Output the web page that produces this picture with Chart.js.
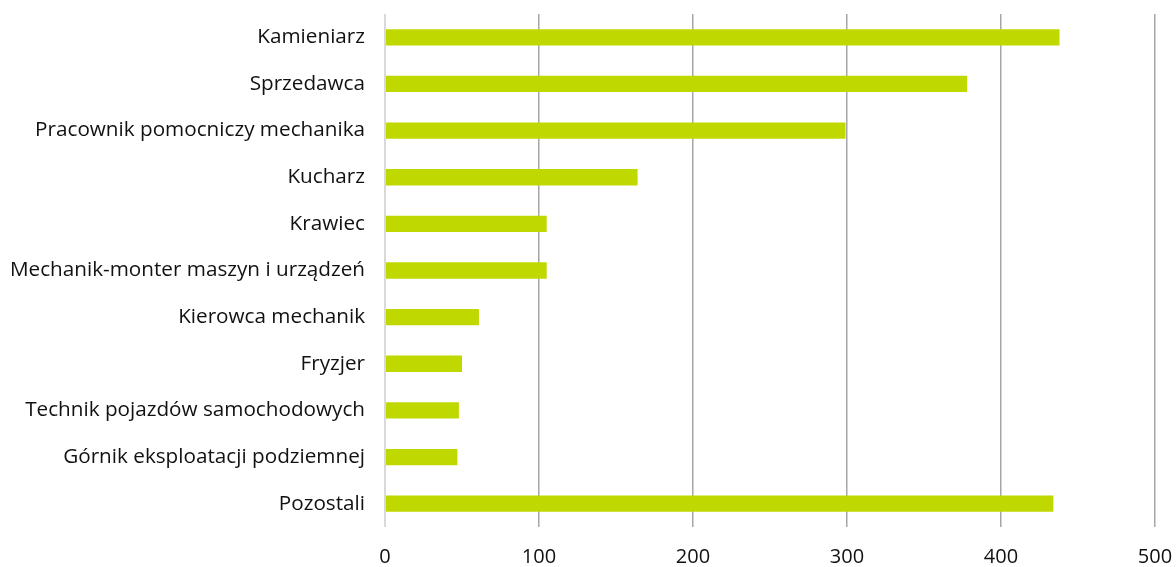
<!DOCTYPE html>
<html>
<head>
<meta charset="utf-8">
<script src="https://cdn.jsdelivr.net/npm/chart.js@4"></script>
<style>
  html, body { margin: 0; padding: 0; background: #fff; }
  #wrap { width: 1176px; height: 567px; position: relative; }
</style>
</head>
<body>
<div id="wrap"><canvas id="chart"></canvas></div>
<script>
const categories = [
  "Kamieniarz",
  "Sprzedawca",
  "Pracownik pomocniczy mechanika",
  "Kucharz",
  "Krawiec",
  "Mechanik-monter maszyn i urządzeń",
  "Kierowca mechanik",
  "Fryzjer",
  "Technik pojazdów samochodowych",
  "Górnik eksploatacji podziemnej",
  "Pozostali"
]
const values = [438, 378, 299, 164, 105, 105, 61, 50, 48, 47, 434]
const xTicks = [0, 100, 200, 300, 400, 500]

const font = "'Open Sans', 'Noto Sans', sans-serif"

new Chart(document.getElementById("chart"), {
  type: "bar",
  data: {
    labels: categories,
    datasets: [{
      data: values,
      backgroundColor: "#bfd800",
      barPercentage: 0.35,
      categoryPercentage: 1
    }]
  },
  options: {
    indexAxis: "y",
    responsive: true,
    maintainAspectRatio: false,
    animation: false,
    layout: { padding: { top: 14, right: 21, bottom: 0, left: 0 } },
    plugins: {
      legend: { display: false },
      tooltip: { enabled: false }
    },
    scales: {
      x: {
        min: 0,
        max: 500,
        afterBuildTicks: (axis) => { axis.ticks = xTicks.map(v => ({ value: v })) },
        afterFit: (axis) => { axis.height = 40; axis.paddingLeft = 0; axis.paddingRight = 0 },
        grid: {
          drawTicks: false,
          color: (ctx) => ctx.index === 0 ? "#d9d9d9" : "#a6a6a6",
          lineWidth: (ctx) => ctx.index === 0 ? 2 : 1.5
        },
        border: { display: false },
        ticks: {
          padding: 18,
          color: "#111",
          font: { family: font, size: 20 }
        }
      },
      y: {
        grid: { display: false, drawTicks: false },
        border: { display: false },
        afterFit: (axis) => { axis.width = 385; axis.paddingTop = 0; axis.paddingBottom = 0 },
        ticks: {
          padding: 20,
          color: "#111",
          font: { family: font, size: 20.7 }
        }
      }
    }
  }
})
</script>
</body>
</html>
